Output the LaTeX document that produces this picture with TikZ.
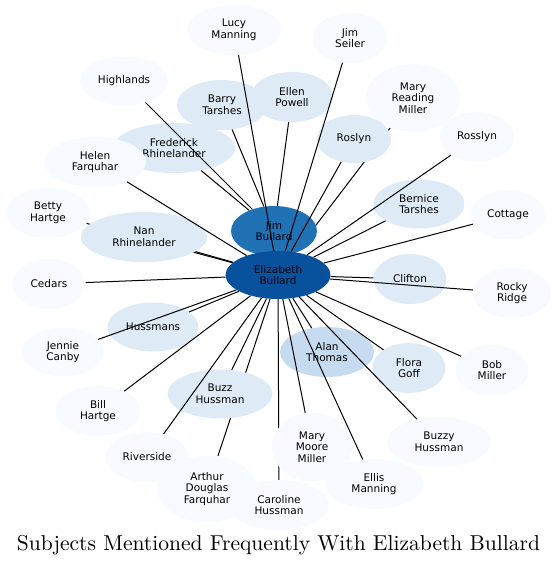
\documentclass[tikz,border=0pt]{standalone}
\usepackage{fontspec}
\setsansfont{DejaVu Sans}
\newfontfamily\titlefont{lmroman10-regular}[Extension=.otf]
\usetikzlibrary{shapes.geometric}
\pgfdeclarelayer{bg}
\pgfsetlayers{bg,main}
\definecolor{blueA}{HTML}{F7FBFF}
\definecolor{blueB}{HTML}{DEEBF7}
\definecolor{blueC}{HTML}{C6DBEF}
\definecolor{blueD}{HTML}{2171B5}
\definecolor{blueE}{HTML}{08519C}
\tikzset{
  subj/.style={ellipse, fill=blueA, inner sep=0pt, align=center,
    font=\sffamily\fontsize{10.5}{11.7}\selectfont},
  sz/.style 2 args={minimum width=#1pt, minimum height=#2pt},
  link/.style={line width=1pt},
}
\begin{document}
\begin{tikzpicture}[x=1pt, y=-1pt]
        \useasboundingbox (0,0) rectangle (557,566);
        % Outer ring, top
        \node[subj, sz={94}{50}] (lucy) at (234,30) {Lucy\\Manning};
        \node[subj, sz={75}{50}] (seiler) at (350,38) {Jim\\Seiler};
        \node[subj, sz={88}{49}] (highlands) at (124,81) {Highlands};
        \node[subj, sz={94}{68}] (mrm) at (413,98) {Mary\\Reading\\Miller};
        \node[subj, sz={74}{50}] (rosslyn) at (477,137) {Rosslyn};
        \node[subj, sz={90}{50}, fill=blueB] (barry) at (222,105) {Barry\\Tarshes};
        \node[subj, sz={82}{50}, fill=blueB] (ellen) at (292,97) {Ellen\\Powell};
        \node[subj, sz={74}{48}, fill=blueB] (roslyn) at (354,139) {Roslyn};
        \node[subj, sz={122}{50}, fill=blueB] (frederick) at (174,148) {Frederick\\Rhinelander};
        \node[subj, sz={102}{50}] (helen) at (95,162) {Helen\\Farquhar};
        % Left and right sides
        \node[subj, sz={84}{50}] (betty) at (48,213) {Betty\\Hartge};
        \node[subj, sz={126}{50}, fill=blueB] (nan) at (144,237) {Nan\\Rhinelander};
        \node[subj, sz={91}{49}, fill=blueB] (bernice) at (419,204) {Bernice\\Tarshes};
        \node[subj, sz={75}{49}] (cottage) at (508,215) {Cottage};
        \node[subj, sz={73}{50}, fill=blueB] (clifton) at (410,279) {Clifton};
        \node[subj, sz={78}{50}] (rocky) at (512,293) {Rocky\\Ridge};
        \node[subj, sz={73}{50}] (cedars) at (49,284) {Cedars};
        \node[subj, sz={91}{49}, fill=blueB] (hussmans) at (153,327) {Hussmans};
        \node[subj, sz={81}{49}] (jennie) at (63,352) {Jennie\\Canby};
        \node[subj, sz={94}{50}, fill=blueC] (alan) at (327,352) {Alan\\Thomas};
        \node[subj, sz={73}{50}, fill=blueB] (flora) at (409,368) {Flora\\Goff};
        \node[subj, sz={73}{50}] (bob) at (492,370) {Bob\\Miller};
        % Outer ring, bottom
        \node[subj, sz={85}{50}] (bill) at (98,411) {Bill\\Hartge};
        \node[subj, sz={105}{49}, fill=blueB] (buzz) at (220,394) {Buzz\\Hussman};
        \node[subj, sz={83}{50}] (riverside) at (147,457) {Riverside};
        \node[subj, sz={104}{50}] (buzzy) at (439,442) {Buzzy\\Hussman};
        \node[subj, sz={100}{67}] (arthur) at (207,489) {Arthur\\Douglas\\Farquhar};
        \node[subj, sz={99}{50}] (ellis) at (374,484) {Ellis\\Manning};
        \node[subj, sz={100}{50}] (caroline) at (279,505) {Caroline\\Hussman};
        \node[subj, sz={80}{69}] (marymoore) at (312,447) {Mary\\Moore\\Miller};
        % Centre pair
        \node[subj, sz={86}{50}, fill=blueD] (jb) at (274,231) {Jim\\Bullard};
        \node[subj, sz={105}{48}, fill=blueE] (eb) at (278,275) {Elizabeth\\Bullard};
        % Hidden links (under other nodes)
        \begin{pgfonlayer}{bg}
          \draw[link] (betty) -- (eb);
          \draw[link] (mrm) -- (eb);
          \draw[link] (arthur) -- (eb);
          \draw[link] (caroline) -- (eb);
        \end{pgfonlayer}
        % Links to Jim Bullard
        \draw[link] (ellen) -- (jb);
        \draw[link] (barry) -- (jb);
        \draw[link] (highlands) -- (jb);
        \draw[link] (frederick) -- (jb);
        % Links to Elizabeth Bullard
        \draw[link] (lucy) -- (eb);
        \draw[link] (seiler) -- (eb);
        \draw[link] (roslyn) -- (eb);
        \draw[link] (rosslyn) -- (eb);
        \draw[link] (bernice) -- (eb);
        \draw[link] (cottage) -- (eb);
        \draw[link] (clifton) -- (eb);
        \draw[link] (rocky) -- (eb);
        \draw[link] (bob) -- (eb);
        \draw[link] (flora) -- (eb);
        \draw[link] (buzzy) -- (eb);
        \draw[link] (alan) -- (eb);
        \draw[link] (ellis) -- (eb);
        \draw[link] (marymoore) -- (eb);
        \draw[link] (buzz) -- (eb);
        \draw[link] (riverside) -- (eb);
        \draw[link] (bill) -- (eb);
        \draw[link] (jennie) -- (eb);
        \draw[link] (hussmans) -- (eb);
        \draw[link] (cedars) -- (eb);
        \draw[link] (nan) -- (eb);
        \draw[link] (helen) -- (eb);
        % Title
        \node[inner sep=0pt] (title) at (278.5,545) {\resizebox{523pt}{!}{\titlefont\fontsize{20}{22}\selectfont Subjects Mentioned Frequently With Elizabeth Bullard}};
      \end{tikzpicture}
\end{document}
